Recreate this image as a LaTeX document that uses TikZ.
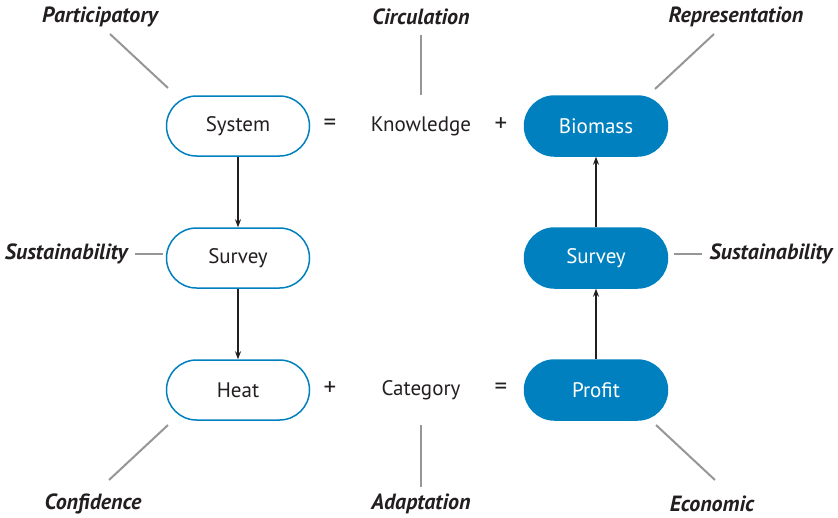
\documentclass[tikz,border=0pt]{standalone}
\usepackage{fontspec}
\setmainfont{PT Sans}
\usepackage{tikz}
\usetikzlibrary{positioning,arrows.meta}
\definecolor{pillblue}{RGB}{0,128,191}
\definecolor{darktext}{RGB}{35,31,32}
\definecolor{taggray}{RGB}{150,150,150}
\tikzset{
    pill-box/.style = {draw=pillblue, fill=white, line width=1.5pt, rectangle, rounded corners=30pt, minimum width=143pt, minimum height=60pt, text=darktext, font=\fontsize{21}{24}\selectfont},
    pill-box-filled/.style = {pill-box, fill=pillblue, text=white},
    word/.style = {text=darktext, font=\fontsize{21}{24}\selectfont},
    sign/.style = {text=darktext, font=\fontsize{25}{28}\selectfont},
    tag-label/.style = {text=darktext, font=\fontsize{22}{25}\selectfont\bfseries\itshape},
    tag-line/.style = {draw=taggray, line width=2pt},
    flow/.style = {-{Stealth[length=8pt,width=6pt]}, line width=1.3pt, draw=darktext},
}

\begin{document}
\begin{tikzpicture}[x=1pt, y=-1pt]
\useasboundingbox (0,0) rectangle (838,517);
% boxes
\node [pill-box] (system) at (238,126) {System};
\node [pill-box] (survey-l) at (238,258) {Survey};
\node [pill-box] (heat) at (238,390) {Heat};
\node [pill-box-filled] (biomass) at (596,126) {Biomass};
\node [pill-box-filled] (survey-r) at (596,258) {Survey};
\node [pill-box-filled] (profit) at (596,390) {Profit};
\node [word] (knowledge) at (421,126) {Knowledge};
\node [word] (category) at (421,390) {Category};
\node [sign] (eq-top) at (330,125) {=};
\node [sign] (plus-top) at (501,125) {+};
\node [sign] (plus-bot) at (330,389) {+};
\node [sign] (eq-bot) at (501,389) {=};

\draw [flow] (system) -- (survey-l);
\draw [flow] (survey-l) -- (heat);
\draw [flow] (profit) -- (survey-r);
\draw [flow] (survey-r) -- (biomass);

% tags
\node [tag-label] (participatory) at (100,17) {Participatory};
\node [tag-label] (circulation) at (421,17) {Circulation};
\node [tag-label] (representation) at (736,17) {Representation};
\node [tag-label, anchor=east] (sustain-l) at (131,254) {Sustainability};
\node [tag-label, anchor=west] (sustain-r) at (706,254) {Sustainability};
\node [tag-label] (confidence) at (93,504) {Confidence};
\node [tag-label] (adaptation) at (421,504) {Adaptation};
\node [tag-label] (economic) at (712,504) {Economic};

\coordinate (p1) at (110,34);  \coordinate (p2) at (168,88);
\coordinate (c1) at (421,35);  \coordinate (c2) at (421,95);
\coordinate (r1) at (714,34);  \coordinate (r2) at (655,89);
\coordinate (s1) at (135,254); \coordinate (s2) at (163,254);
\coordinate (s3) at (674,254); \coordinate (s4) at (702,254);
\coordinate (f1) at (168,425); \coordinate (f2) at (109,480);
\coordinate (a1) at (421,425); \coordinate (a2) at (421,487);
\coordinate (e1) at (656,425); \coordinate (e2) at (715,480);
\draw [tag-line] (p1) -- (p2);
\draw [tag-line] (c1) -- (c2);
\draw [tag-line] (r1) -- (r2);
\draw [tag-line] (s1) -- (s2);
\draw [tag-line] (s3) -- (s4);
\draw [tag-line] (f1) -- (f2);
\draw [tag-line] (a1) -- (a2);
\draw [tag-line] (e1) -- (e2);
\end{tikzpicture}
\end{document}
